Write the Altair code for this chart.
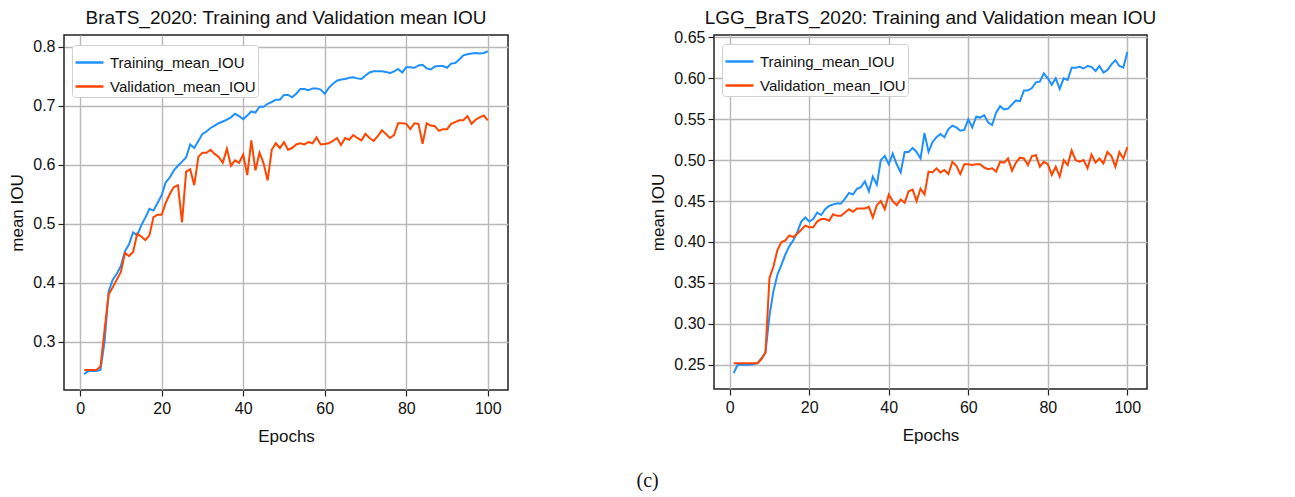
import altair as alt
import pandas as pd

epochs = list(range(1, 101))

brats_train = [
    0.245, 0.250, 0.250, 0.250, 0.252, 0.300, 0.385, 0.405, 0.415, 0.428,
    0.453, 0.465, 0.485, 0.480, 0.497, 0.510, 0.525, 0.522, 0.535, 0.548,
    0.570, 0.578, 0.590, 0.598, 0.605, 0.612, 0.634, 0.628, 0.640, 0.652,
    0.656, 0.662, 0.666, 0.670, 0.673, 0.676, 0.680, 0.686, 0.682, 0.677,
    0.683, 0.690, 0.688, 0.698, 0.698, 0.703, 0.706, 0.710, 0.710, 0.718,
    0.718, 0.714, 0.720, 0.728, 0.728, 0.726, 0.729, 0.729, 0.727, 0.720,
    0.730, 0.737, 0.742, 0.744, 0.745, 0.747, 0.748, 0.746, 0.745, 0.751,
    0.756, 0.758, 0.758, 0.758, 0.757, 0.755, 0.758, 0.762, 0.756, 0.765,
    0.765, 0.764, 0.768, 0.769, 0.763, 0.761, 0.766, 0.767, 0.767, 0.764,
    0.771, 0.772, 0.778, 0.785, 0.787, 0.788, 0.789, 0.788, 0.789, 0.792,
]
brats_val = [
    0.252, 0.252, 0.252, 0.252, 0.258, 0.320, 0.380, 0.392, 0.405, 0.418,
    0.450, 0.445, 0.452, 0.483, 0.478, 0.472, 0.480, 0.511, 0.515, 0.515,
    0.535, 0.550, 0.562, 0.565, 0.502, 0.588, 0.592, 0.565, 0.613, 0.620,
    0.620, 0.625, 0.618, 0.613, 0.603, 0.627, 0.598, 0.607, 0.603, 0.617,
    0.582, 0.641, 0.590, 0.620, 0.602, 0.573, 0.625, 0.636, 0.628, 0.638,
    0.625, 0.628, 0.634, 0.636, 0.634, 0.638, 0.636, 0.646, 0.634, 0.635,
    0.636, 0.640, 0.645, 0.633, 0.645, 0.642, 0.650, 0.645, 0.641, 0.652,
    0.645, 0.640, 0.648, 0.658, 0.652, 0.645, 0.650, 0.670, 0.670, 0.669,
    0.660, 0.670, 0.669, 0.635, 0.670, 0.666, 0.665, 0.657, 0.660, 0.660,
    0.669, 0.672, 0.675, 0.675, 0.682, 0.669, 0.676, 0.680, 0.683, 0.675,
]
lgg_train = [
    0.240, 0.250, 0.250, 0.250, 0.250, 0.251, 0.252, 0.258, 0.265, 0.310,
    0.340, 0.360, 0.372, 0.385, 0.395, 0.402, 0.412, 0.425, 0.430, 0.425,
    0.428, 0.436, 0.433, 0.440, 0.444, 0.446, 0.447, 0.447, 0.453, 0.460,
    0.458, 0.465, 0.467, 0.474, 0.462, 0.480, 0.470, 0.500, 0.505, 0.495,
    0.508, 0.495, 0.485, 0.510, 0.510, 0.515, 0.510, 0.502, 0.533, 0.510,
    0.522, 0.528, 0.532, 0.528, 0.538, 0.542, 0.540, 0.536, 0.537, 0.550,
    0.540, 0.553, 0.552, 0.555, 0.546, 0.543, 0.558, 0.566, 0.562, 0.563,
    0.568, 0.573, 0.572, 0.585, 0.585, 0.588, 0.595, 0.596, 0.606, 0.600,
    0.592, 0.600, 0.587, 0.600, 0.598, 0.613, 0.613, 0.614, 0.612, 0.615,
    0.614, 0.609, 0.615, 0.607, 0.610, 0.617, 0.622, 0.615, 0.613, 0.632,
]
lgg_val = [
    0.252, 0.252, 0.252, 0.252, 0.252, 0.252, 0.252, 0.257, 0.265, 0.356,
    0.370, 0.390, 0.400, 0.402, 0.408, 0.406, 0.410, 0.415, 0.420, 0.418,
    0.418, 0.425, 0.428, 0.428, 0.426, 0.434, 0.432, 0.432, 0.436, 0.440,
    0.437, 0.441, 0.441, 0.441, 0.443, 0.430, 0.445, 0.450, 0.440, 0.458,
    0.450, 0.445, 0.452, 0.448, 0.462, 0.464, 0.450, 0.465, 0.458, 0.486,
    0.485, 0.490, 0.485, 0.488, 0.483, 0.498, 0.493, 0.483, 0.495, 0.495,
    0.494, 0.495, 0.495, 0.491, 0.489, 0.490, 0.486, 0.498, 0.497, 0.502,
    0.487, 0.497, 0.503, 0.502, 0.494, 0.505, 0.506, 0.492, 0.498, 0.495,
    0.482, 0.492, 0.480, 0.500, 0.494, 0.512, 0.500, 0.498, 0.500, 0.490,
    0.507, 0.497, 0.502, 0.496, 0.510, 0.505, 0.492, 0.510, 0.502, 0.516,
]

series_names = ["Training_mean_IOU", "Validation_mean_IOU"]
series_colors = ["#1e90ff", "#ff4500"]
x_ticks = [0, 20, 40, 60, 80, 100]
brats_yticks = [0.3, 0.4, 0.5, 0.6, 0.7, 0.8]
lgg_yticks = [0.25, 0.30, 0.35, 0.40, 0.45, 0.50, 0.55, 0.60, 0.65]

FONT = "Liberation Sans"


def make_df(train, val):
    return pd.DataFrame({
        "epoch": epochs + epochs,
        "iou": train + val,
        "series": [series_names[0]] * len(epochs) + [series_names[1]] * len(epochs),
    })


def panel(train, val, title, ydomain, yticks, yfmt, w, h, legend_y, toff):
    df = make_df(train, val)
    return alt.Chart(df).mark_line(strokeWidth=2).encode(
        x=alt.X("epoch:Q",
                scale=alt.Scale(domain=[-3.95, 104.95], nice=False, zero=False),
                axis=alt.Axis(values=x_ticks, title="Epochs", format="d")),
        y=alt.Y("iou:Q",
                scale=alt.Scale(domain=ydomain, nice=False, zero=False),
                axis=alt.Axis(values=yticks, format=yfmt, title="mean IOU")),
        color=alt.Color("series:N",
                        scale=alt.Scale(domain=series_names, range=series_colors),
                        legend=alt.Legend(title=None, orient="none", legendX=8, legendY=legend_y,
                                          symbolType="stroke", symbolSize=784,
                                          symbolStrokeWidth=2.5, labelFontSize=15,
                                          labelFont=FONT, labelColor="#111",
                                          labelOffset=5, rowPadding=0, padding=2,
                                          strokeColor="#d0d0d0", cornerRadius=3,
                                          fillColor="white")),
        order=alt.Order("series:N"),
    ).properties(
        width=w, height=h,
        title=alt.TitleParams(title, font=FONT, fontSize=19, fontWeight="normal",
                              color="#111", baseline="bottom", offset=toff),
    )


left = panel(brats_train, brats_val, "BraTS_2020: Training and Validation mean IOU",
             [0.218, 0.8195], brats_yticks, ".1f", 444, 355, 10, -12)
right = panel(lgg_train, lgg_val, "LGG_BraTS_2020: Training and Validation mean IOU",
              [0.2204, 0.6529], lgg_yticks, ".2f", 433, 354, 9, -18)

chart = alt.hconcat(left, right, spacing=140).resolve_legend(
    color="independent"
).properties(
    title=alt.TitleParams("(c)", orient="bottom", anchor="middle", frame="bounds",
                          font="Liberation Serif", fontSize=20,
                          fontWeight="normal", color="#111", dx=65, offset=26),
    padding={"left": 0, "top": 0, "right": 0, "bottom": 0},
    background="white",
).configure_view(
    stroke="#222", strokeWidth=1.5,
).configure_axis(
    labelFont=FONT, labelFontSize=16, labelColor="#111",
    titleFont=FONT, titleFontSize=17, titleFontWeight="normal", titleColor="#111",
    tickColor="#222", tickSize=6, tickWidth=1.2,
    domain=False, gridColor="#b8b8b8", gridWidth=1.4,
).configure_axisX(
    labelPadding=4, titlePadding=12,
).configure_axisY(
    labelPadding=3, titlePadding=6,
)

chart.save("out.html", embed_options={"renderer": "svg", "actions": False})
